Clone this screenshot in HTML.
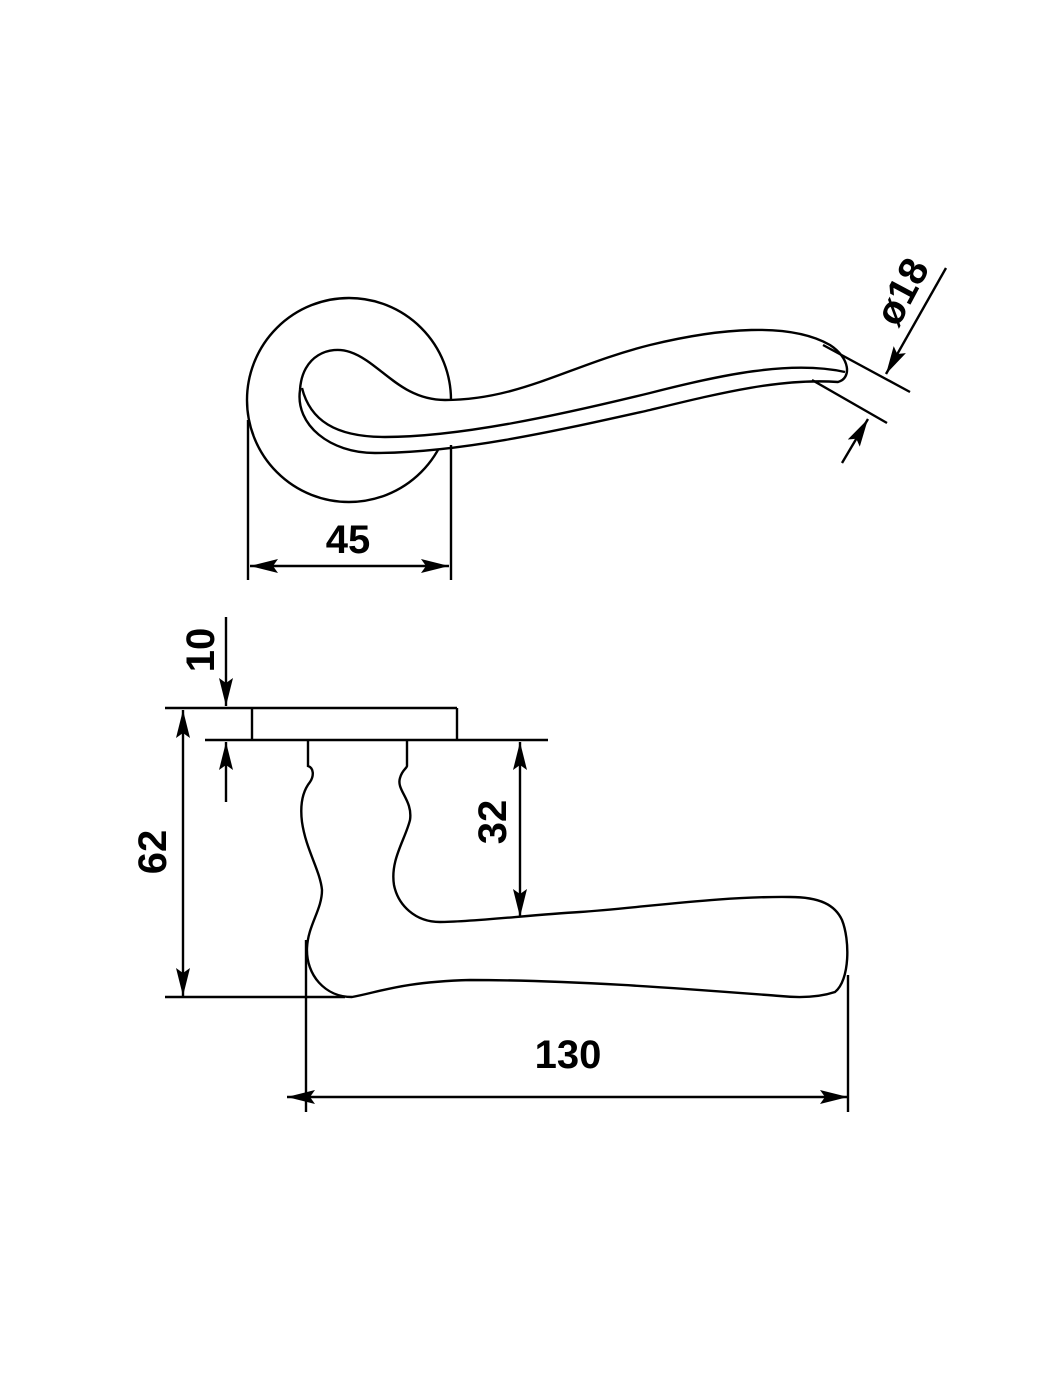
<!DOCTYPE html>
<html><head><meta charset="utf-8"><style>
html,body{margin:0;padding:0;background:#fff;}
svg{display:block}
text{font-family:"Liberation Sans",sans-serif;font-weight:bold;fill:#000}
</style></head><body>
<svg width="1050" height="1400" viewBox="0 0 1050 1400" xmlns="http://www.w3.org/2000/svg">
<defs>
<marker id="a" viewBox="0 0 28 14" refX="28" refY="7" markerWidth="28" markerHeight="14" markerUnits="userSpaceOnUse" orient="auto">
<path d="M0,0 L28,7 L0,14 L5,7 Z" fill="#000"/></marker>
</defs>
<g fill="none" stroke="#000" stroke-width="2.4">
<!-- top view rosette -->
<circle cx="349" cy="400" r="102"/>
<!-- handle top view -->
<path fill="#fff" d="M300,390 C302,355 330,345 350,352 C380,362 400,400 445,400 C520,400 570,365 650,345 C720,328 790,322 830,345 C850,358 852,378 838,382 C780,378 720,393 650,410 C560,430 460,453 375,453 C330,453 295,425 300,390 Z"/>
<path d="M302,388 C310,420 335,437 385,437 C460,437 560,415 650,393 C720,375 790,360 845,372"/>
<!-- 45 dim -->
<line x1="248" y1="420" x2="248" y2="580"/>
<line x1="451" y1="445" x2="451" y2="580"/>
<line x1="350" y1="566" x2="250" y2="566" marker-end="url(#a)"/>
<line x1="350" y1="566" x2="449" y2="566" marker-end="url(#a)"/>
<!-- ø18 -->
<line x1="823" y1="345" x2="910" y2="392"/>
<line x1="812" y1="380" x2="887" y2="423"/>
<line x1="946" y1="268" x2="886" y2="374" marker-end="url(#a)"/>
<line x1="842" y1="463" x2="868" y2="419" marker-end="url(#a)"/>
<!-- side view -->
<line x1="165" y1="708" x2="457" y2="708"/>
<line x1="457" y1="708" x2="457" y2="740"/>
<line x1="252" y1="708" x2="252" y2="740"/>
<line x1="205" y1="740" x2="548" y2="740"/>
<line x1="226" y1="617" x2="226" y2="706" marker-end="url(#a)"/>
<line x1="226" y1="802" x2="226" y2="742" marker-end="url(#a)"/>
<line x1="183" y1="850" x2="183" y2="710" marker-end="url(#a)"/>
<line x1="183" y1="850" x2="183" y2="996" marker-end="url(#a)"/>
<line x1="165" y1="997" x2="345" y2="997"/>
<line x1="520" y1="830" x2="520" y2="742" marker-end="url(#a)"/>
<line x1="520" y1="830" x2="520" y2="917" marker-end="url(#a)"/>
<line x1="306" y1="940" x2="306" y2="1112"/>
<line x1="848" y1="975" x2="848" y2="1112"/>
<line x1="570" y1="1097" x2="287" y2="1097" marker-end="url(#a)"/>
<line x1="570" y1="1097" x2="848" y2="1097" marker-end="url(#a)"/>
<!-- side handle -->
<path d="M308,740 L308,766 C314,768 314,776 310,782 C302,792 300,806 302,822 C306,850 320,870 322,890 C322,910 308,925 307,948 C306,975 325,997 352,997 C380,992 400,982 470,980 C580,980 700,990 780,996 C800,998 820,997 835,992 C850,980 850,940 842,920 C835,905 820,897 790,897 C720,896 640,908 580,912 C530,915 470,922 440,922 C415,922 398,905 394,885 C390,860 405,840 410,820 C413,800 396,790 400,778 C402,770 407,768 407,766 L407,740"/>
</g>
<text x="348" y="553" font-size="40" text-anchor="middle">45</text>
<text x="0" y="0" font-size="40" text-anchor="middle" transform="translate(914,298) rotate(-62)">ø18</text>
<text x="0" y="0" font-size="40" text-anchor="middle" transform="translate(214,650) rotate(-90)">10</text>
<text x="0" y="0" font-size="40" text-anchor="middle" transform="translate(166,852) rotate(-90)">62</text>
<text x="0" y="0" font-size="40" text-anchor="middle" transform="translate(506,822) rotate(-90)">32</text>
<text x="568" y="1068" font-size="40" text-anchor="middle">130</text>
</svg>
</body></html>
